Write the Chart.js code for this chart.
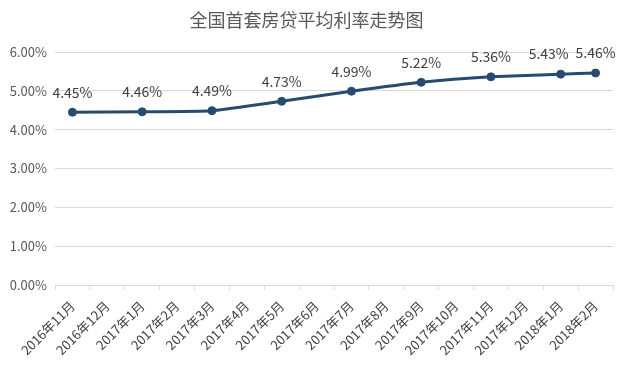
<!DOCTYPE html>
<html>
<head>
<meta charset="utf-8">
<script src="https://cdn.jsdelivr.net/npm/chart.js@4.4.1/dist/chart.umd.min.js"></script>
<style>
  html, body { margin: 0; padding: 0; background: #fff; }
  #wrap { width: 628px; height: 372px; }
</style>
</head>
<body>
<div id="wrap"><canvas id="chartRate"></canvas></div>
<script>
// Données
const months = ['2016年11月', '2016年12月', '2017年1月', '2017年2月', '2017年3月', '2017年4月',
    '2017年5月', '2017年6月', '2017年7月', '2017年8月', '2017年9月', '2017年10月',
    '2017年11月', '2017年12月', '2018年1月', '2018年2月'];
const rates = [4.45, null, 4.46, null, 4.49, null, 4.73, null, 4.99, null, 5.22, null, 5.36, null, 5.43, 5.46];
const yTicks = [0, 1, 2, 3, 4, 5, 6];

const fontFamily = '"Noto Sans CJK SC", "Noto Sans", sans-serif';

// Étiquettes de valeur au-dessus des points
const valueLabels = {
    id: 'valueLabels',
    afterDatasetsDraw(chart) {
        const ctx = chart.ctx;
        const meta = chart.getDatasetMeta(0);
        ctx.save();
        ctx.font = '14px ' + fontFamily;
        ctx.fillStyle = '#404040';
        ctx.textAlign = 'center';
        ctx.textBaseline = 'middle';
        meta.data.forEach((pt, i) => {
            const v = rates[i];
            if (v === null) return;
            // si le point suivant est trop proche, on décale l'étiquette à gauche
            let dx = 0;
            const next = meta.data[i + 1];
            if (next && rates[i + 1] !== null && next.x - pt.x < 45) dx = -12;
            ctx.fillText(v.toFixed(2) + '%', pt.x + dx, pt.y - 20);
        });
        ctx.restore();
    }
};

new Chart(document.getElementById('chartRate'), {
    type: 'line',
    data: {
        labels: months,
        datasets: [{
            data: rates,
            borderColor: '#264b6f',
            backgroundColor: '#264b6f',
            borderWidth: 3,
            pointRadius: 4,
            pointBorderWidth: 1,
            pointHoverRadius: 4,
            tension: 0.15,
            spanGaps: true
        }]
    },
    options: {
        responsive: true,
        maintainAspectRatio: false,
        animation: false,
        layout: { padding: { left: 0, right: 15, top: 0, bottom: 0 } },
        plugins: {
            legend: { display: false },
            tooltip: { enabled: false },
            title: {
                display: true,
                text: '全国首套房贷平均利率走势图',
                color: '#595959',
                font: { family: fontFamily, size: 18, weight: 'normal' },
                padding: { top: 9, bottom: 21.4 }
            }
        },
        scales: {
            x: {
                offset: true,
                grid: {
                    offset: true,
                    drawOnChartArea: false,
                    drawTicks: true,
                    tickLength: 5,
                    color: '#d9d9d9'
                },
                border: { color: '#d9d9d9' },
                ticks: {
                    color: '#404040',
                    font: { family: fontFamily, size: 13 },
                    maxRotation: 45,
                    minRotation: 45,
                    autoSkip: false,
                    padding: 8
                },
                afterFit: (scale) => { scale.height = 87; }
            },
            y: {
                min: 0,
                max: 6,
                afterBuildTicks: (scale) => { scale.ticks = yTicks.map(v => ({ value: v })); },
                grid: { color: '#d9d9d9', drawTicks: false },
                border: { display: false },
                ticks: {
                    color: '#595959',
                    font: { family: fontFamily, size: 13 },
                    padding: 8,
                    callback: (v) => v.toFixed(2) + '%'
                },
                afterFit: (scale) => { scale.width = 55; }
            }
        }
    },
    plugins: [valueLabels]
});
</script>
</body>
</html>
